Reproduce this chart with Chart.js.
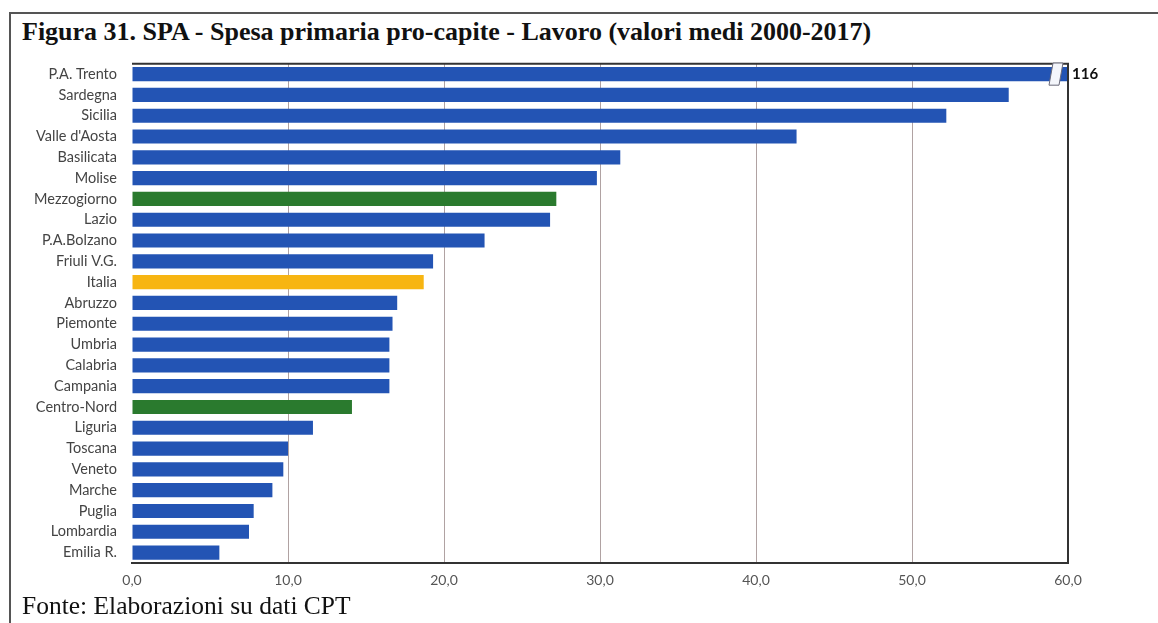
<!DOCTYPE html>
<html>
<head>
<meta charset="utf-8">
<script src="https://cdn.jsdelivr.net/npm/chart.js@4/dist/chart.umd.min.js"></script>
<style>
  html, body { margin: 0; padding: 0; background: #fff; }
  body { width: 1158px; height: 623px; position: relative; overflow: hidden; }
  #frame { position: absolute; left: 9px; top: 12px; width: 1160px; height: 700px;
           border-left: 2px solid #555; border-top: 2px solid #555; }
  #title { position: absolute; left: 22px; top: 17px; font-family: "Liberation Serif", serif;
           font-weight: bold; font-size: 26px; color: #111; white-space: nowrap; }
  #source { position: absolute; left: 22px; top: 592px; font-family: "Liberation Serif", serif;
            font-size: 25.5px; color: #111; white-space: nowrap; line-height: 1.1; }
  #wrap { position: absolute; left: 0; top: 40px; width: 1158px; height: 555px; }
</style>
</head>
<body>
<div id="frame"></div>
<div id="title">Figura 31. SPA - Spesa primaria pro-capite - Lavoro (valori medi 2000-2017)</div>
<div id="wrap"><canvas id="c"></canvas></div>
<div id="source">Fonte: Elaborazioni su dati CPT</div>
<script>
const categories = ["P.A. Trento","Sardegna","Sicilia","Valle d'Aosta","Basilicata","Molise","Mezzogiorno","Lazio","P.A.Bolzano","Friuli V.G.","Italia","Abruzzo","Piemonte","Umbria","Calabria","Campania","Centro-Nord","Liguria","Toscana","Veneto","Marche","Puglia","Lombardia","Emilia R."];
const values = [116, 56.2, 52.2, 42.6, 31.3, 29.8, 27.2, 26.8, 22.6, 19.3, 18.7, 17.0, 16.7, 16.5, 16.5, 16.5, 14.1, 11.6, 10.0, 9.7, 9.0, 7.8, 7.5, 5.6];
const xTicks = [0, 10, 20, 30, 40, 50, 60];
const greenCats = ["Mezzogiorno", "Centro-Nord"];
const yellowCats = ["Italia"];

const barColors = categories.map(c => greenCats.includes(c) ? "#2a7a2e" : (yellowCats.includes(c) ? "#f7b512" : "#2354b4"));

const breakPlugin = {
  id: "breakPlugin",
  afterDatasetsDraw(chart) {
    const ctx = chart.ctx;
    const area = chart.chartArea;
    ctx.save();
    ctx.strokeStyle = "#333";
    ctx.lineWidth = 2;
    ctx.beginPath();
    ctx.moveTo(area.left, area.top);
    ctx.lineTo(area.right, area.top);
    ctx.lineTo(area.right, area.bottom);
    ctx.stroke();
    const meta = chart.getDatasetMeta(0);
    const xs = chart.scales.x;
    values.forEach((v, i) => {
      if (v > xs.max) {
        const bar = meta.data[i];
        const y = bar.y, h = bar.height;
        const cx = area.right - 12;
        ctx.fillStyle = "#f4f6fb";
        ctx.strokeStyle = "#6a6a7a";
        ctx.lineWidth = 1;
        ctx.beginPath();
        ctx.moveTo(cx - 3, y - h / 2 - 4);
        ctx.lineTo(cx + 7, y - h / 2 - 4);
        ctx.lineTo(cx + 3, y + h / 2 + 4);
        ctx.lineTo(cx - 7, y + h / 2 + 4);
        ctx.closePath();
        ctx.fill();
        ctx.stroke();
        ctx.fillStyle = "#111";
        ctx.font = "bold 15px Lato, 'Open Sans', sans-serif";
        ctx.textAlign = "left";
        ctx.textBaseline = "middle";
        ctx.fillText(String(Math.round(v)), area.right + 4, y);
      }
    });
    ctx.restore();
  }
};

new Chart(document.getElementById("c"), {
  type: "bar",
  data: {
    labels: categories,
    datasets: [{
      data: values,
      backgroundColor: barColors,
      borderWidth: 0,
      barPercentage: 0.68,
      categoryPercentage: 1.0
    }]
  },
  options: {
    indexAxis: "y",
    responsive: true,
    maintainAspectRatio: false,
    animation: false,
    layout: { padding: { left: 0, right: 90, top: 8, bottom: 0 } },
    plugins: { legend: { display: false }, tooltip: { enabled: false } },
    scales: {
      x: {
        min: 0, max: 60,
        afterBuildTicks(scale) { scale.ticks = xTicks.map(v => ({ value: v })); },
        afterFit(scale) { scale.height = 32; },
        grid: {
          drawTicks: false,
          color: ctx => (ctx.tick && ctx.tick.value === 0) ? "rgba(0,0,0,0)" : (ctx.tick && ctx.tick.value === 60 ? "#333" : "#b0a2a2"),
          lineWidth: 1
        },
        border: { display: true, color: "#333", width: 2 },
        ticks: {
          padding: 9,
          color: "#555",
          font: { family: "Lato, 'Open Sans', sans-serif", size: 14 },
          callback: v => v.toFixed(1).replace(".", ",")
        }
      },
      y: {
        afterFit(scale) { scale.width = 132; },
        grid: { display: false, drawTicks: false },
        border: { display: false },
        ticks: {
          padding: 15,
          autoSkip: false,
          color: "#444",
          font: { family: "Lato, 'Open Sans', sans-serif", size: 14.5 }
        }
      }
    }
  },
  plugins: [breakPlugin]
});
</script>
</body>
</html>
